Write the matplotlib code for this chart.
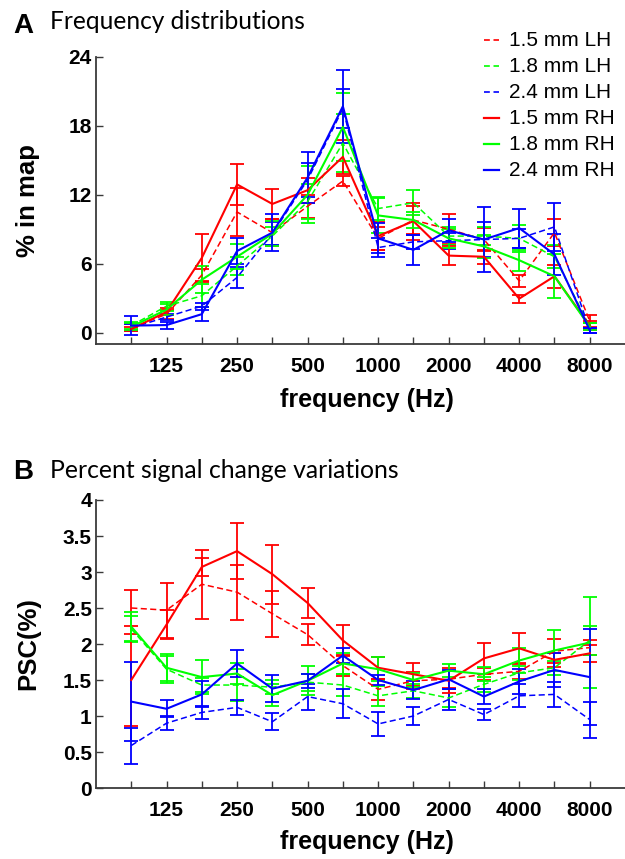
import matplotlib
matplotlib.use('Agg')
import matplotlib.pyplot as plt
from matplotlib.lines import Line2D

plt.rcParams['font.family'] = ['Liberation Sans', 'DejaVu Sans']

# ---------------- data ----------------
positions = list(range(1, 15))
tick_labels = ['', '125', '', '250', '', '500', '', '1000', '', '2000', '', '4000', '', '8000']
series_labels = ['1.5 mm LH', '1.8 mm LH', '2.4 mm LH', '1.5 mm RH', '1.8 mm RH', '2.4 mm RH']
series_colors = ['#ff0000', '#00ff00', '#0000ff', '#ff0000', '#00ff00', '#0000ff']
series_dashed = [True, True, True, False, False, False]

# Panel A: % in map
a_red_lh = [0.4, 1.6, 5.0, 10.5, 8.7, 11.0, 13.2, 8.2, 9.8, 9.0, 8.1, 4.5, 8.7, 1.0]
a_red_lh_err = [0.3, 0.4, 0.5, 2.1, 1.2, 1.0, 0.4, 1.0, 1.2, 1.3, 1.0, 0.5, 1.2, 0.5]
a_green_lh = [0.6, 2.3, 3.2, 5.8, 8.4, 11.4, 16.5, 10.8, 11.3, 8.4, 8.4, 8.2, 6.6, 0.5]
a_green_lh_err = [0.3, 0.4, 1.0, 0.8, 0.8, 1.5, 2.5, 1.0, 1.1, 0.8, 0.8, 1.2, 1.0, 0.3]
a_blue_lh = [0.4, 1.35, 2.3, 4.8, 8.6, 13.3, 19.5, 7.4, 7.9, 8.0, 8.1, 8.2, 9.2, 0.2]
a_blue_lh_err = [0.3, 0.3, 0.3, 0.9, 1.0, 1.5, 1.7, 0.8, 0.6, 0.7, 1.5, 0.8, 2.1, 0.2]
a_red_rh = [0.3, 1.8, 6.5, 12.9, 11.2, 12.4, 15.3, 8.4, 9.7, 6.7, 6.6, 2.95, 4.9, 0.6]
a_red_rh_err = [0.2, 0.3, 2.1, 1.8, 1.3, 1.1, 1.5, 1.2, 1.6, 0.8, 0.6, 0.35, 1.0, 0.4]
a_green_rh = [0.5, 2.0, 4.6, 6.6, 8.6, 12.0, 17.9, 10.2, 9.8, 8.2, 7.5, 6.3, 4.9, 0.5]
a_green_rh_err = [0.3, 0.5, 1.2, 1.1, 1.1, 2.5, 3.0, 1.5, 0.7, 0.8, 1.0, 0.9, 1.9, 0.3]
a_blue_rh = [0.6, 0.65, 1.6, 7.1, 8.7, 13.5, 19.7, 8.2, 7.2, 8.9, 8.1, 9.1, 6.8, 0.2]
a_blue_rh_err = [0.8, 0.3, 0.6, 1.1, 1.6, 2.2, 3.2, 1.3, 1.3, 1.0, 2.8, 1.7, 1.8, 0.2]

# Panel B: PSC(%)
b_red_lh = [2.5, 2.47, 2.83, 2.72, 2.42, 2.13, 1.70, 1.37, 1.49, 1.51, 1.58, 1.62, 1.90, 1.95]
b_red_lh_err = [0.25, 0.38, 0.48, 0.38, 0.32, 0.15, 0.15, 0.15, 0.12, 0.12, 0.08, 0.1, 0.17, 0.1]
b_green_lh = [2.21, 1.65, 1.43, 1.43, 1.40, 1.47, 1.43, 1.28, 1.35, 1.25, 1.44, 1.60, 1.67, 2.05]
b_green_lh_err = [0.18, 0.19, 0.1, 0.22, 0.1, 0.12, 0.15, 0.14, 0.1, 0.12, 0.1, 0.1, 0.1, 0.2]
b_blue_lh = [0.59, 0.90, 1.05, 1.12, 0.92, 1.27, 1.17, 0.89, 1.00, 1.23, 1.02, 1.28, 1.30, 0.95]
b_blue_lh_err = [0.25, 0.1, 0.09, 0.1, 0.12, 0.18, 0.2, 0.17, 0.13, 0.15, 0.08, 0.16, 0.17, 0.25]
b_red_rh = [1.5, 2.27, 3.07, 3.29, 2.97, 2.57, 2.05, 1.67, 1.58, 1.49, 1.80, 1.94, 1.78, 1.87]
b_red_rh_err = [0.64, 0.2, 0.12, 0.39, 0.41, 0.21, 0.22, 0.15, 0.16, 0.17, 0.21, 0.21, 0.1, 0.12]
b_green_rh = [2.24, 1.67, 1.54, 1.59, 1.29, 1.49, 1.73, 1.65, 1.50, 1.63, 1.58, 1.77, 1.91, 2.02]
b_green_rh_err = [0.2, 0.19, 0.24, 0.15, 0.15, 0.2, 0.15, 0.17, 0.1, 0.09, 0.1, 0.17, 0.28, 0.63]
b_blue_rh = [1.20, 1.10, 1.30, 1.73, 1.38, 1.49, 1.84, 1.50, 1.36, 1.51, 1.27, 1.48, 1.64, 1.54]
b_blue_rh_err = [0.55, 0.12, 0.18, 0.19, 0.19, 0.1, 0.11, 0.07, 0.12, 0.13, 0.1, 0.17, 0.24, 0.67]

a_series = [(a_red_lh, a_red_lh_err), (a_green_lh, a_green_lh_err), (a_blue_lh, a_blue_lh_err),
            (a_red_rh, a_red_rh_err), (a_green_rh, a_green_rh_err), (a_blue_rh, a_blue_rh_err)]
b_series = [(b_red_lh, b_red_lh_err), (b_green_lh, b_green_lh_err), (b_blue_lh, b_blue_lh_err),
            (b_red_rh, b_red_rh_err), (b_green_rh, b_green_rh_err), (b_blue_rh, b_blue_rh_err)]

a_yticks = [0, 6, 12, 18, 24]
b_yticks = [0, 0.5, 1, 1.5, 2, 2.5, 3, 3.5, 4]
b_yticklabels = ['0', '0.5', '1', '1.5', '2', '2.5', '3', '3.5', '4']

# ---------------- layout ----------------
W, H = 625, 859
fig = plt.figure(figsize=(W / 100, H / 100), dpi=100)


def rect(l, t, r, b):
    return [l / W, 1 - b / H, (r - l) / W, (b - t) / H]


ax1 = fig.add_axes(rect(96, 57, 625, 344))
ax2 = fig.add_axes(rect(96, 500, 625, 788))

DASH = (0, (4, 2.2))
spine_col = '#3a3a3a'


def draw(ax, series):
    for (vals, errs), col, dashed in zip(series, series_colors, series_dashed):
        ax.errorbar(positions, vals, yerr=errs, color=col,
                    ls=DASH if dashed else '-', lw=1.1 if dashed else 1.5,
                    elinewidth=1.3, capsize=5, capthick=1.3, zorder=3)


def style(ax, ylim, yticks, yticklabels, ylabel, label_y):
    ax.set_xlim(0, 15)
    ax.set_ylim(*ylim)
    ax.set_xticks(positions)
    ax.set_xticklabels(tick_labels, fontsize=15, fontweight='bold')
    ax.set_yticks(yticks)
    ax.set_yticklabels(yticklabels, fontsize=15, fontweight='bold')
    for s in ['top', 'right']:
        ax.spines[s].set_visible(False)
    for s in ['left', 'bottom']:
        ax.spines[s].set_color(spine_col)
        ax.spines[s].set_linewidth(1.3)
    ax.tick_params(axis='both', direction='in', length=5, width=1, color=spine_col)
    ax.tick_params(axis='x', pad=9)
    ax.tick_params(axis='y', pad=3)
    ax.set_xlabel('frequency (Hz)', fontsize=18, fontweight='bold')
    ax.xaxis.set_label_coords((367 - 96) / (625 - 96), label_y)
    ax.xaxis.label.set_va('center')
    ax.set_ylabel(ylabel, fontsize=18.5, fontweight='bold')
    ax.yaxis.set_label_coords((28 - 96) / (625 - 96), 0.5)
    ax.yaxis.label.set_va('center')
    ax.patch.set_visible(False)


draw(ax1, a_series)
draw(ax2, b_series)
style(ax1, (-1, 24), a_yticks, [str(v) for v in a_yticks], '% in map', -(400 - 344) / (344 - 57))
style(ax2, (0, 4), b_yticks, b_yticklabels, 'PSC(%)', -(842 - 788) / (788 - 500))

# manual legend
for i, (lab, col, dashed) in enumerate(zip(series_labels, series_colors, series_dashed)):
    y = 1 - (40 + 26 * i) / H
    fig.add_artist(Line2D([484 / W, 499 / W], [y, y], transform=fig.transFigure, color=col,
                          ls=(0, (3.5, 2.2)) if dashed else '-', lw=1.2 if dashed else 1.6))
    fig.text(509 / W, y, lab, fontsize=15, va='center', ha='left')

# panel letters and titles
fig.text(13 / W, 1 - 33 / H, 'A', fontsize=20, fontweight='bold', va='baseline')
fig.text(13 / W, 1 - 479 / H, 'B', fontsize=20, fontweight='bold', va='baseline')
t1 = fig.text(50 / W, 1 - 29 / H, 'Frequency distributions', family='Lato', fontsize=16, va='baseline')
t2 = fig.text(50 / W, 1 - 478 / H, 'Percent signal change variations', family='Lato', fontsize=16, va='baseline')

fig.canvas.draw()
r = fig.canvas.get_renderer()
for t, target in [(t1, 256), (t2, 350)]:
    w = t.get_window_extent(r).width
    t.set_fontsize(t.get_fontsize() * target / w)

fig.savefig('out.png', dpi=100)
